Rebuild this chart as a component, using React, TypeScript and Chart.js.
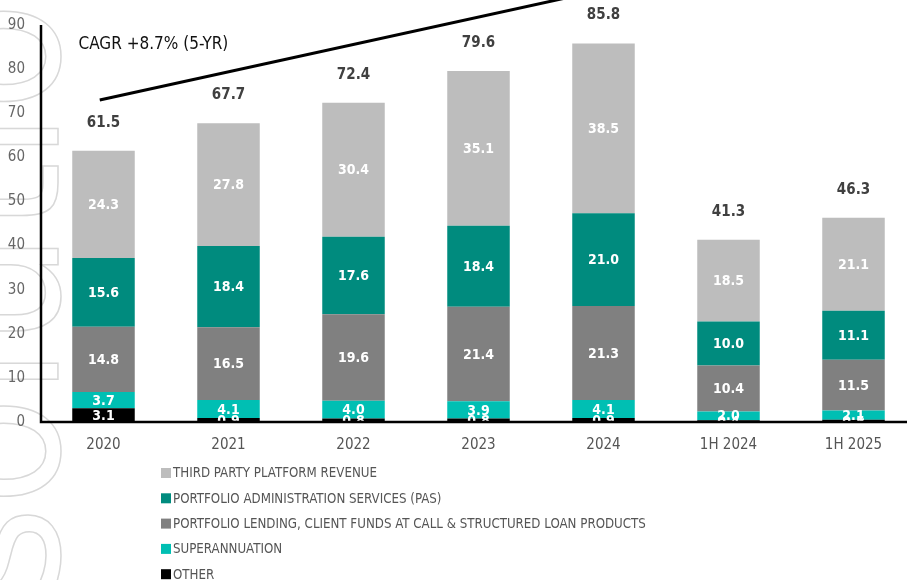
import React, { useEffect, useRef } from "react";
import { Chart, registerables } from "chart.js";

Chart.register(...registerables);

const categories = ["2020", "2021", "2022", "2023", "2024", "1H 2024", "1H 2025"];
const other = [3.1, 0.9, 0.8, 0.8, 0.9, 0.4, 0.5];
const superannuation = [3.7, 4.1, 4.0, 3.9, 4.1, 2.0, 2.1];
const lending = [14.8, 16.5, 19.6, 21.4, 21.3, 10.4, 11.5];
const pas = [15.6, 18.4, 17.6, 18.4, 21.0, 10.0, 11.1];
const thirdParty = [24.3, 27.8, 30.4, 35.1, 38.5, 18.5, 21.1];
const totals = [61.5, 67.7, 72.4, 79.6, 85.8, 41.3, 46.3];
const yTicks = [0, 10, 20, 30, 40, 50, 60, 70, 80, 90];
const cagrLabel = "CAGR +8.7% (5-YR)";
const cagrStart = { index: -0.03, value: 73.0 };
const cagrEnd = { index: 4.0, value: 98.0 };
const legendOrder = [
  "THIRD PARTY PLATFORM REVENUE",
  "PORTFOLIO ADMINISTRATION SERVICES (PAS)",
  "PORTFOLIO LENDING, CLIENT FUNDS AT CALL & STRUCTURED LOAN PRODUCTS",
  "SUPERANNUATION",
  "OTHER",
];

const FONT = "'Liberation Sans Narrow', 'DejaVu Sans Condensed', Roboto, sans-serif";

export default function App() {
  const ref = useRef<HTMLCanvasElement | null>(null);

  useEffect(() => {
    if (!ref.current) return;

    const watermark = {
      id: "watermark",
      beforeDraw(chart: any) {
        const ctx = chart.ctx;
        ctx.save();
        ctx.translate(58, 600);
        ctx.rotate(-Math.PI / 2);
        ctx.font = `200px ${FONT}`;
        ctx.strokeStyle = "#d8d8d8";
        ctx.lineWidth = 1.5;
        ctx.textBaseline = "alphabetic";
        ctx.strokeText("solutions", 0, 0);
        ctx.restore();
      },
    };

    const overlay = {
      id: "overlay",
      afterDatasetsDraw(chart: any) {
        const ctx = chart.ctx;
        const x = chart.scales.x;
        const y = chart.scales.y;
        ctx.save();
        // segment labels
        ctx.font = `bold 14px ${FONT}`;
        ctx.fillStyle = "#ffffff";
        ctx.textAlign = "center";
        ctx.textBaseline = "middle";
        chart.data.datasets.forEach((ds: any, di: number) => {
          const meta = chart.getDatasetMeta(di);
          meta.data.forEach((bar: any, i: number) => {
            const v = ds.data[i];
            const mid = (bar.y + bar.base) / 2;
            ctx.fillText(v.toFixed(1), bar.x, mid + 1);
          });
        });
        // totals
        ctx.font = `bold 15px ${FONT}`;
        ctx.fillStyle = "#404040";
        totals.forEach((t, i) => {
          ctx.fillText(t.toFixed(1), x.getPixelForValue(i), y.getPixelForValue(t) - 28);
        });
        // axes
        ctx.strokeStyle = "#000";
        ctx.lineWidth = 2.5;
        ctx.beginPath();
        ctx.moveTo(chart.chartArea.left, chart.chartArea.top);
        ctx.lineTo(chart.chartArea.left, chart.chartArea.bottom);
        ctx.lineTo(chart.width, chart.chartArea.bottom);
        ctx.stroke();
        // CAGR line
        const step = x.getPixelForValue(1) - x.getPixelForValue(0);
        const x0 = x.getPixelForValue(0) + cagrStart.index * step;
        const x1 = x.getPixelForValue(0) + cagrEnd.index * step;
        ctx.lineWidth = 3;
        ctx.beginPath();
        ctx.moveTo(x0, y.getPixelForValue(cagrStart.value));
        ctx.lineTo(x1, y.getPixelForValue(cagrEnd.value));
        ctx.stroke();
        ctx.font = `17px ${FONT}`;
        ctx.fillStyle = "#111";
        ctx.textAlign = "left";
        ctx.fillText(cagrLabel, x.getPixelForValue(0) - 25, y.getPixelForValue(85.6));
        // legend
        ctx.font = `13.2px ${FONT}`;
        ctx.textBaseline = "middle";
        legendOrder.forEach((label, k) => {
          const ds = chart.data.datasets.find((d: any) => d.label === label);
          const ly = 473 + k * 25.3;
          ctx.fillStyle = ds.backgroundColor;
          ctx.fillRect(161, ly - 5, 10, 10);
          ctx.fillStyle = "#555";
          ctx.fillText(label, 173, ly + 1);
        });
        ctx.restore();
      },
    };

    const mk = (label: string, data: number[], color: string) => ({
      label,
      data,
      backgroundColor: color,
      borderColor: "#ffffff",
      borderWidth: 0,
      barPercentage: 0.5,
      categoryPercentage: 1,
    });

    const chart = new Chart(ref.current, {
      type: "bar",
      data: {
        labels: categories,
        datasets: [
          mk("OTHER", other, "#000000"),
          mk("SUPERANNUATION", superannuation, "#00BFB3"),
          mk("PORTFOLIO LENDING, CLIENT FUNDS AT CALL & STRUCTURED LOAN PRODUCTS", lending, "#808080"),
          mk("PORTFOLIO ADMINISTRATION SERVICES (PAS)", pas, "#008B7E"),
          mk("THIRD PARTY PLATFORM REVENUE", thirdParty, "#BDBDBD"),
        ],
      },
      options: {
        animation: false,
        responsive: true,
        maintainAspectRatio: false,
        layout: { padding: { top: 22, right: 0, bottom: 118, left: 0 } },
        plugins: { legend: { display: false }, tooltip: { enabled: false } },
        scales: {
          x: {
            stacked: true,
            grid: { display: false, drawTicks: false },
            border: { display: false },
            ticks: { color: "#555", font: { family: FONT, size: 15 }, padding: 14 },
            afterFit(scale: any) {
              scale.height = 40;
            },
          },
          y: {
            stacked: true,
            min: 0,
            max: 90,
            grid: { display: false, drawTicks: false },
            border: { display: false },
            afterBuildTicks(scale: any) {
              scale.ticks = yTicks.map((v) => ({ value: v }));
            },
            ticks: { color: "#666", font: { family: FONT, size: 15 }, padding: 16 },
            afterFit(scale: any) {
              scale.width = 41;
            },
          },
        },
      },
      plugins: [watermark, overlay],
    });
    return () => chart.destroy();
  }, []);

  return (
    <div style={{ position: "fixed", left: 0, top: 0, width: 916, height: 580, background: "#fff" }}>
      <canvas ref={ref} />
    </div>
  );
}
